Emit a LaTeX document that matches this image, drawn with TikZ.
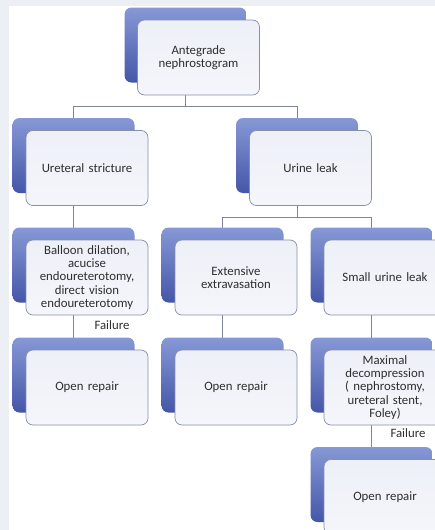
\documentclass[tikz,border=0pt]{standalone}
\usepackage{fontspec}
\setmainfont{Carlito}
\usetikzlibrary{backgrounds}

\definecolor{pagegray}{HTML}{ECEFF3}
\definecolor{backtop}{HTML}{8798D6}
\definecolor{backbot}{HTML}{4456A8}
\definecolor{frontfill}{HTML}{EEF0F8}
\definecolor{frontline}{HTML}{8890A8}
\definecolor{linkgray}{HTML}{7D8597}
\definecolor{textgray}{HTML}{2E2E2E}

\begin{document}
\begin{tikzpicture}[x=1pt, y=-1pt]
  \def\boxw{122pt}
  \def\boxh{75pt}
  \tikzstyle{backbox} = [rectangle, rounded corners=7pt, top color=backtop, bottom color=backbot, inner sep=0pt, minimum width=\boxw, minimum height=\boxh]
  \tikzstyle{frontbox} = [rectangle, rounded corners=7pt, draw=frontline, line width=0.7pt, top color=frontfill, bottom color=frontfill!60!white, inner sep=0pt, minimum width=\boxw, minimum height=\boxh, text width=118pt, align=center, text=textgray, font=\fontsize{12.8}{13.2}\selectfont]
  \tikzstyle{note} = [inner sep=0pt, text=textgray, font=\fontsize{12.8}{13.2}\selectfont]
  \tikzstyle{link} = [draw=linkgray, line width=0.8pt]

  \useasboundingbox (0,0) rectangle (435,530);
  \clip (0,0) rectangle (435,530);

  \begin{scope}[shift={(185.5,45)}]
    \node[backbox] (ante-b) at (0, 0) {};
    \node[frontbox] (ante) at (13, 12.5) {Antegrade\\nephrostogram};
  \end{scope}

  \begin{scope}[shift={(73.5,155.5)}]
    \node[backbox] (ureteral-b) at (0, 0) {};
    \node[frontbox] (ureteral) at (13.5, 12.5) {Ureteral stricture};
  \end{scope}

  \begin{scope}[shift={(297,155.5)}]
    \node[backbox] (urine-b) at (0, 0) {};
    \node[frontbox] (urine) at (13.5, 12.5) {Urine leak};
  \end{scope}

  \begin{scope}[shift={(73.5,265)}]
    \node[backbox] (balloon-b) at (0, 0) {};
    \node[frontbox] (balloon) at (13.5, 12.5) {Balloon dilation,\\acucise\\endoureterotomy,\\direct vision\\endoureterotomy};
  \end{scope}

  \begin{scope}[shift={(222.5,265)}]
    \node[backbox] (extensive-b) at (0, 0) {};
    \node[frontbox] (extensive) at (13.5, 12.5) {Extensive\\extravasation};
  \end{scope}

  \begin{scope}[shift={(371.5,265)}]
    \node[backbox] (small-b) at (0, 0) {};
    \node[frontbox] (small) at (13.5, 12.5) {Small urine leak};
  \end{scope}

  \begin{scope}[shift={(73.5,375)}]
    \node[backbox] (openleft-b) at (0, 0) {};
    \node[frontbox] (openleft) at (13.5, 12.5) {Open repair};
  \end{scope}

  \begin{scope}[shift={(222.5,375)}]
    \node[backbox] (openmid-b) at (0, 0) {};
    \node[frontbox] (openmid) at (13.5, 12.5) {Open repair};
  \end{scope}

  \begin{scope}[shift={(371.5,375)}]
    \node[backbox] (maximal-b) at (0, 0) {};
    \node[frontbox] (maximal) at (13.5, 12.5) {Maximal\\decompression\\( nephrostomy,\\ureteral stent,\\Foley)};
  \end{scope}

  \begin{scope}[shift={(371.5,484.5)}]
    \node[backbox] (openright-b) at (0, 0) {};
    \node[frontbox] (openright) at (13.5, 12.5) {Open repair};
  \end{scope}

  \node[note] (failleft) at (112, 325) {Failure};
  \node[note] (failright) at (408, 433.5) {Failure};

  \begin{pgfonlayer}{background}
    \fill[pagegray] (0,0) rectangle (435,530);
    \fill[white] (9,6) rectangle (435,530);

    \coordinate (split1) at (185.5, 106.5);
    \coordinate (split2) at (297, 217.5);

    \draw[link] (ante-b.center) -- (split1);
    \draw[link] (ureteral-b.center) |- (split1) -| (urine-b.center);
    \draw[link] (urine-b.center) -- (split2);
    \draw[link] (extensive-b.center) |- (split2) -| (small-b.center);
    \draw[link] (ureteral-b.center) -- (balloon-b.center);
    \draw[link] (balloon-b.center) -- (openleft-b.center);
    \draw[link] (extensive-b.center) -- (openmid-b.center);
    \draw[link] (small-b.center) -- (maximal-b.center);
    \draw[link] (maximal-b.center) -- (openright-b.center);
  \end{pgfonlayer}

\end{tikzpicture}
\end{document}
